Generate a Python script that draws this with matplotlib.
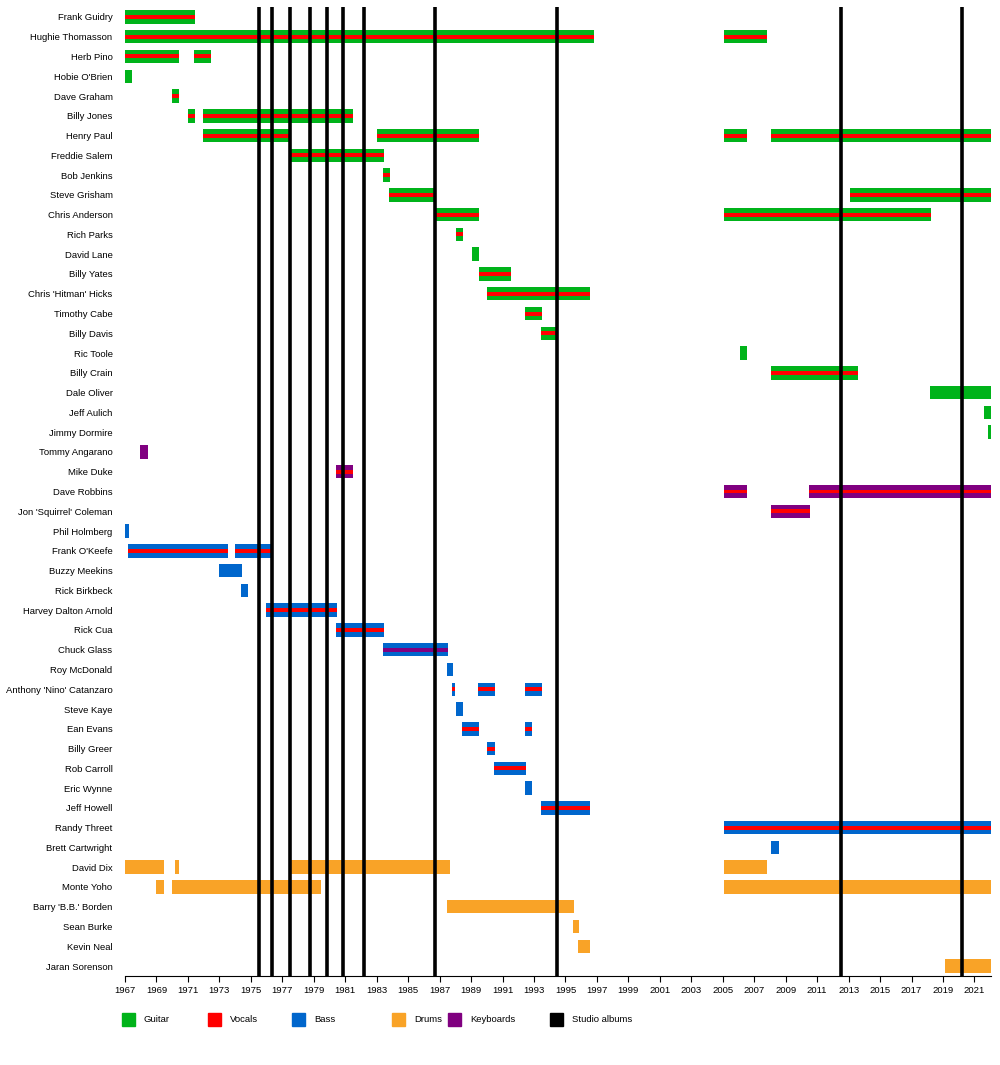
import matplotlib.pyplot as plt
import matplotlib.patches as patches

members = ["Frank Guidry", "Hughie Thomasson", "Herb Pino", "Hobie O'Brien", "Dave Graham",
           "Billy Jones", "Henry Paul", "Freddie Salem", "Bob Jenkins", "Steve Grisham",
           "Chris Anderson", "Rich Parks", "David Lane", "Billy Yates", "Chris 'Hitman' Hicks",
           "Timothy Cabe", "Billy Davis", "Ric Toole", "Billy Crain", "Dale Oliver",
           "Jeff Aulich", "Jimmy Dormire", "Tommy Angarano", "Mike Duke", "Dave Robbins",
           "Jon 'Squirrel' Coleman", "Phil Holmberg", "Frank O'Keefe", "Buzzy Meekins",
           "Rick Birkbeck", "Harvey Dalton Arnold", "Rick Cua", "Chuck Glass", "Roy McDonald",
           "Anthony 'Nino' Catanzaro", "Steve Kaye", "Ean Evans", "Billy Greer", "Rob Carroll",
           "Eric Wynne", "Jeff Howell", "Randy Threet", "Brett Cartwright", "David Dix",
           "Monte Yoho", "Barry 'B.B.' Borden", "Sean Burke", "Kevin Neal", "Jaran Sorenson"]

# (start, end, main role, stripe role or None)
periods = {
    "Frank Guidry": [(1967.0, 1971.45, "g", "v")],
    "Hughie Thomasson": [(1967.0, 1996.8, "g", "v"), (2005.08, 2007.8, "g", "v")],
    "Herb Pino": [(1967.0, 1970.43, "g", "v"), (1971.39, 1972.47, "g", "v")],
    "Hobie O'Brien": [(1967.0, 1967.45, "g", None)],
    "Dave Graham": [(1969.99, 1970.43, "g", "v")],
    "Billy Jones": [(1971.0, 1971.45, "g", "v"), (1971.96, 1981.5, "g", "v")],
    "Henry Paul": [(1971.96, 1977.49, "g", "v"), (1983.02, 1989.5, "g", "v"),
                   (2005.08, 2006.54, "g", "v"), (2008.07, 2022.05, "g", "v")],
    "Freddie Salem": [(1977.49, 1983.47, "g", "v")],
    "Bob Jenkins": [(1983.4, 1983.85, "g", "v")],
    "Steve Grisham": [(1983.78, 1986.77, "g", "v"), (2013.09, 2022.05, "g", "v")],
    "Chris Anderson": [(1986.77, 1989.5, "g", "v"), (2005.08, 2018.24, "g", "v")],
    "Rich Parks": [(1988.04, 1988.49, "g", "v")],
    "David Lane": [(1989.06, 1989.5, "g", None)],
    "Billy Yates": [(1989.5, 1991.54, "g", "v")],
    "Chris 'Hitman' Hicks": [(1990.01, 1996.56, "g", "v")],
    "Timothy Cabe": [(1992.43, 1993.51, "g", "v")],
    "Billy Davis": [(1993.45, 1994.46, "g", "v")],
    "Ric Toole": [(2006.1, 2006.54, "g", None)],
    "Billy Crain": [(2008.07, 2013.6, "g", "v")],
    "Dale Oliver": [(2018.18, 2022.05, "g", None)],
    "Jeff Aulich": [(2021.6, 2022.05, "g", None)],
    "Jimmy Dormire": [(2021.86, 2022.05, "g", None)],
    "Tommy Angarano": [(1967.95, 1968.46, "k", None)],
    "Mike Duke": [(1980.41, 1981.5, "k", "v")],
    "Dave Robbins": [(2005.08, 2006.54, "k", "v"), (2010.48, 2022.05, "k", "v")],
    "Jon 'Squirrel' Coleman": [(2008.07, 2010.55, "k", "v")],
    "Phil Holmberg": [(1967.0, 1967.25, "b", None)],
    "Frank O'Keefe": [(1967.2, 1973.55, "b", "v"), (1974.0, 1976.41, "b", "v")],
    "Buzzy Meekins": [(1972.98, 1974.44, "b", None)],
    "Rick Birkbeck": [(1974.37, 1974.82, "b", None)],
    "Harvey Dalton Arnold": [(1975.96, 1980.48, "b", "v")],
    "Rick Cua": [(1980.41, 1983.47, "b", "v")],
    "Chuck Glass": [(1983.4, 1987.53, "b", "k")],
    "Roy McDonald": [(1987.47, 1987.85, "b", None)],
    "Anthony 'Nino' Catanzaro": [(1987.79, 1987.98, "b", "v"), (1989.44, 1990.52, "b", "v"),
                                 (1992.43, 1993.51, "b", "v")],
    "Steve Kaye": [(1988.04, 1988.49, "b", None)],
    "Ean Evans": [(1988.42, 1989.5, "b", "v"), (1992.43, 1992.87, "b", "v")],
    "Billy Greer": [(1990.01, 1990.52, "b", "v")],
    "Rob Carroll": [(1990.46, 1992.49, "b", "v")],
    "Eric Wynne": [(1992.43, 1992.87, "b", None)],
    "Jeff Howell": [(1993.45, 1996.56, "b", "v")],
    "Randy Threet": [(2005.08, 2022.05, "b", "v")],
    "Brett Cartwright": [(2008.07, 2008.58, "b", None)],
    "David Dix": [(1967.0, 1969.48, "d", None), (1970.18, 1970.43, "d", None),
                  (1977.49, 1987.66, "d", None), (2005.08, 2007.8, "d", None)],
    "Monte Yoho": [(1968.97, 1969.48, "d", None), (1969.99, 1979.46, "d", None),
                   (2005.08, 2022.05, "d", None)],
    "Barry 'B.B.' Borden": [(1987.47, 1995.55, "d", None)],
    "Sean Burke": [(1995.48, 1995.86, "d", None)],
    "Kevin Neal": [(1995.8, 1996.56, "d", None)],
    "Jaran Sorenson": [(2019.13, 2022.05, "d", None)],
}

albums = [1975.52, 1976.35, 1977.49, 1978.76, 1979.84, 1980.86, 1982.19,
          1986.71, 1994.46, 2012.52, 2020.2]

colors = {"g": "#00b31a", "v": "#ff0000", "b": "#0066cc", "d": "#f9a327",
          "k": "#800080", "a": "#000000"}
legend_items = [("g", "Guitar"), ("v", "Vocals"), ("b", "Bass"), ("d", "Drums"),
                ("k", "Keyboards"), ("a", "Studio albums")]

FONT = "Liberation Sans"
fig = plt.figure(figsize=(10, 10.65), dpi=100)
ax = fig.add_axes([0.125, 0.0836, 0.866, 0.9098])

for i, name in enumerate(members):
    for start, end, role, stripe in periods[name]:
        ax.barh(i, end - start, left=start, height=0.68, color=colors[role], linewidth=0)
        if stripe:
            ax.barh(i, end - start, left=start, height=0.2, color=colors[stripe], linewidth=0)

for a in albums:
    ax.axvline(a, color="black", lw=2.6, zorder=5)

ax.set_xlim(1967, 2022.05)
ax.set_ylim(len(members) - 0.5, -0.5)
ax.set_yticks(range(len(members)))
ax.set_yticklabels(members, fontsize=6.8, family=FONT)
ax.tick_params(axis="y", length=0, pad=9)
ax.set_xticks(range(1967, 2022, 2))
ax.set_xticklabels([str(y) for y in range(1967, 2022, 2)], fontsize=6.8, family=FONT)
ax.tick_params(axis="x", length=4, width=0.8)
for s in ["top", "right", "left"]:
    ax.spines[s].set_visible(False)
ax.spines["bottom"].set_linewidth(0.8)

legend_x = [0.122, 0.208, 0.292, 0.392, 0.448, 0.550]
for (role, label), lx in zip(legend_items, legend_x):
    fig.patches.append(patches.Rectangle((lx, 1 - 1026 / 1065), 0.013, 0.0122,
                                         transform=fig.transFigure, color=colors[role]))
    fig.text(lx + 0.022, 1 - 1020 / 1065, label, fontsize=6.8, va="center", family=FONT)

fig.savefig("out.png", dpi=100)
